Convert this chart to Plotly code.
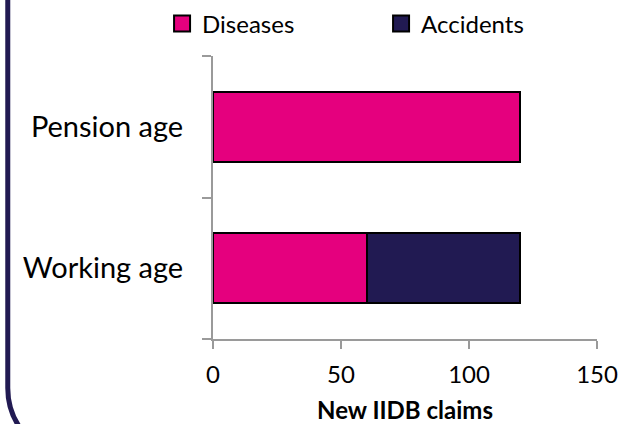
import plotly.graph_objects as go

categories = ["Working age", "Pension age"]
diseases = [60, 120]
accidents = [60, 0]
x_ticks = [0, 50, 100, 150]
series_names = ["Diseases", "Accidents"]

W, H = 621, 424
L, R, T, B = 213, 23.5, 56, 85
pw, ph = W - L - R, H - T - B

def px(x):
    return (x - L) / pw

def py(y):
    return 1 - (y - T) / ph

FONT = "Lato"
PINK = "#E5007E"
NAVY = "#211A52"
colors = [PINK, NAVY]

fig = go.Figure()
for name, vals, col in zip(series_names, [diseases, accidents], colors):
    fig.add_trace(go.Bar(
        y=categories, x=vals, name=name, orientation="h", showlegend=False,
        legendgroup=name,
        marker=dict(color=col, line=dict(color="black", width=2)),
    ))
# legend entries with larger square swatches
for name, col in zip(series_names, colors):
    fig.add_trace(go.Scatter(
        x=[None], y=[None], mode="markers", name=name, legendgroup=name,
        marker=dict(symbol="square", size=16, color=col,
                    line=dict(color="black", width=2)),
    ))

# rounded frame (left/bottom corner visible)
r = 70
k = 0.5523 * r
x0, ys = 7.5, 388
path = (f"M{px(x0)},{py(-10)} L{px(x0)},{py(ys)} "
        f"C{px(x0)},{py(ys + k)} {px(x0 + r - k)},{py(ys + r)} {px(x0 + r)},{py(ys + r)} "
        f"L{px(700)},{py(ys + r)}")
fig.add_shape(type="path", xref="paper", yref="paper", path=path,
              line=dict(color=NAVY, width=5), layer="above")

fig.update_layout(
    width=W, height=H,
    margin=dict(l=L, r=R, t=T, b=B, autoexpand=False),
    barmode="stack", bargap=0.505,
    paper_bgcolor="white", plot_bgcolor="white",
    font=dict(family=FONT, size=24, color="black"),
    showlegend=True,
    legend=dict(orientation="h", x=px(162), y=py(24), xanchor="left", yanchor="middle",
                font=dict(family=FONT, size=24, color="black"),
                entrywidth=174, entrywidthmode="pixels", traceorder="normal",
                itemsizing="trace", bgcolor="rgba(0,0,0,0)"),
    xaxis=dict(range=[0, 150], tickvals=x_ticks, ticktext=[str(v) for v in x_ticks],
               ticks="outside", ticklen=8, tickwidth=2, tickcolor="#9A9A9A",
               showline=True, linecolor="#9A9A9A", linewidth=2,
               showgrid=False, zeroline=False, ticklabelstandoff=5,
               tickfont=dict(family=FONT, size=24, color="black"),
               title=dict(text="<b>New IIDB claims</b>", standoff=16,
                          font=dict(family=FONT, size=24, color="black"))),
    yaxis=dict(range=[-0.5, 1.5], type="category", tickson="boundaries",
               ticks="outside", ticklen=9, tickwidth=2, tickcolor="#9A9A9A",
               showline=True, linecolor="#9A9A9A", linewidth=2,
               showgrid=False, zeroline=False, ticklabelstandoff=22,
               tickfont=dict(family=FONT, size=29, color="black")),
)

fig.write_html("out.html", post_script="document.body.style.margin='0';",
               config={"displayModeBar": False})
